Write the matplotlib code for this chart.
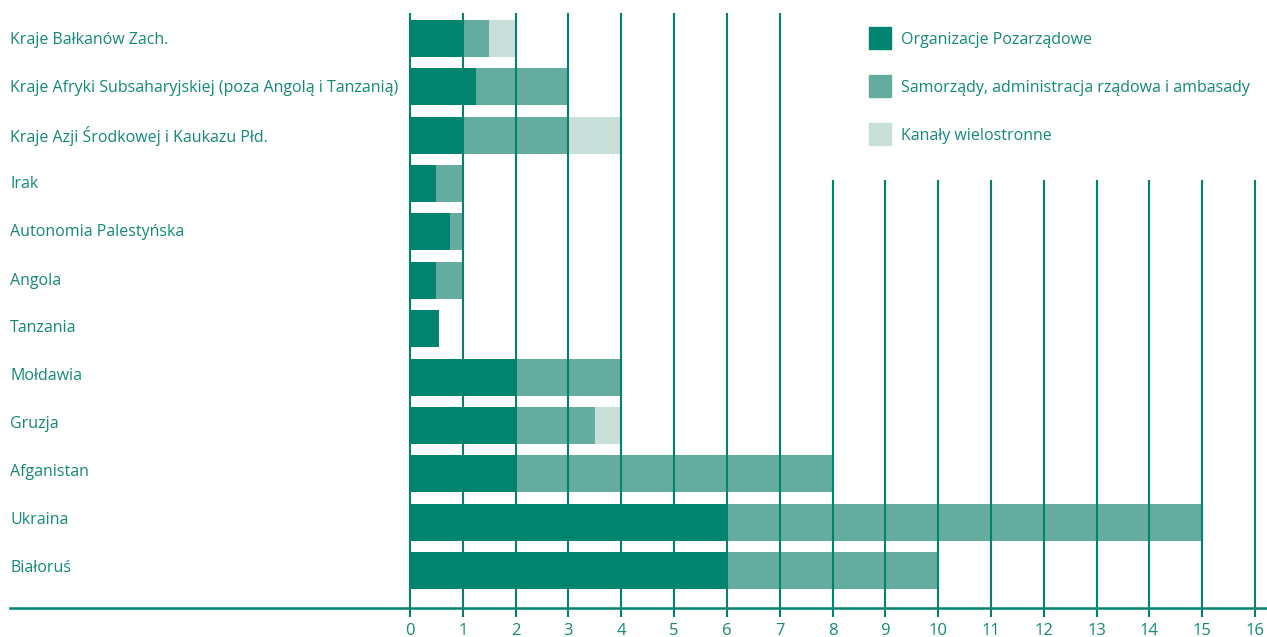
import matplotlib.pyplot as plt
from matplotlib.lines import Line2D
from matplotlib.patches import Rectangle

# Kraje / regiony (od góry)
countries = [
    "Kraje Bałkanów Zach.",
    "Kraje Afryki Subsaharyjskiej (poza Angolą i Tanzanią)",
    "Kraje Azji Środkowej i Kaukazu Płd.",
    "Irak",
    "Autonomia Palestyńska",
    "Angola",
    "Tanzania",
    "Mołdawia",
    "Gruzja",
    "Afganistan",
    "Ukraina",
    "Białoruś",
]
ngo = [1.0, 1.25, 1.0, 0.5, 0.75, 0.5, 0.55, 2.0, 2.0, 2.0, 6.0, 6.0]
gov = [0.5, 1.75, 2.0, 0.5, 0.25, 0.5, 0.0, 2.0, 1.5, 6.0, 9.0, 4.0]
multi = [0.5, 0.0, 1.0, 0.0, 0.0, 0.0, 0.0, 0.0, 0.5, 0.0, 0.0, 0.0]

series_labels = ["Organizacje Pozarządowe",
                 "Samorządy, administracja rządowa i ambasady",
                 "Kanały wielostronne"]
colors = ["#00836f", "#64aca0", "#c8e0d9"]
text_color = "#138a78"
line_color = "#00836f"
xticks = list(range(0, 17))

plt.rcParams['font.family'] = ['Open Sans', 'DejaVu Sans']

W, H = 1267, 637
fig = plt.figure(figsize=(W / 100, H / 100), dpi=100)

# axes placement in pixels
left_px, right_px, top_px, bottom_px = 410, 1255, 13, 608
row0_px, row_step = 38.5, 48.36
ax = fig.add_axes([left_px / W, (H - bottom_px) / H,
                   (right_px - left_px) / W, (bottom_px - top_px) / H])

def px_to_row(py):
    return (py - row0_px) / row_step

y = list(range(len(countries)))
bh = 37 / row_step
lefts = [0.0] * len(y)
for vals, col in zip([ngo, gov, multi], colors):
    ax.barh(y, vals, left=lefts, height=bh, color=col, zorder=2)
    lefts = [a + b for a, b in zip(lefts, vals)]

ax.set_xlim(0, 16)
ax.set_ylim(px_to_row(bottom_px), px_to_row(top_px))

# vertical grid lines (shorter ones under the legend)
for xt in xticks:
    top = px_to_row(180) if xt >= 8 else px_to_row(top_px)
    ax.vlines(xt, top, px_to_row(617), color=line_color, lw=1.5,
              zorder=3, clip_on=False)

for s in ax.spines.values():
    s.set_visible(False)
ax.set_yticks([])
ax.set_xticks(xticks)
ax.tick_params(axis='x', length=0, pad=11, labelsize=12, labelcolor=text_color)

# bottom axis line spanning the whole figure
fig.add_artist(Line2D([10 / W, 1.0], [(H - 608) / H] * 2,
                      transform=fig.transFigure, color=line_color, lw=1.8))

# category labels (text rows are spaced 48 px in the original)
for i, name in enumerate(countries):
    cy = 38 + i * 48 + 2.5
    fig.text(10 / W, (H - cy) / H, name, ha='left', va='center',
             fontsize=11.5, color=text_color)

# legend
for i, (lab, col) in enumerate(zip(series_labels, colors)):
    cy = 38 + i * 48
    fig.add_artist(Rectangle((869 / W, (H - cy - 11) / H), 22 / W, 22 / H,
                             transform=fig.transFigure, color=col))
    fig.text(901 / W, (H - cy - 2.5) / H, lab, ha='left', va='center',
             fontsize=11.5, color=text_color)

fig.savefig("out.png", dpi=100)
